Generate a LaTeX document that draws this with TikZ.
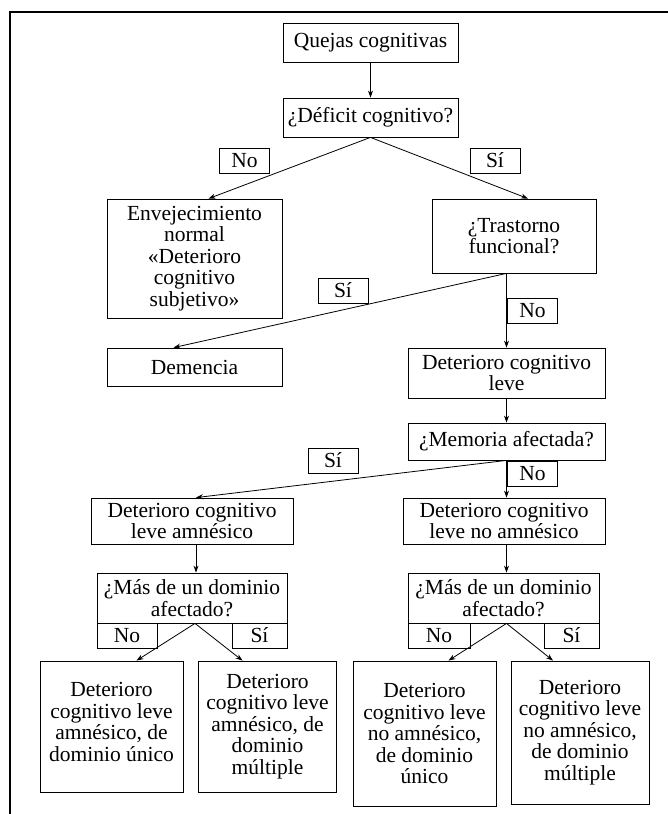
\documentclass[tikz,border=0pt]{standalone}
\usepackage{fontspec}
\setmainfont{Liberation Serif}
\usetikzlibrary{arrows.meta}

\begin{document}
\begin{tikzpicture}[x=1pt, y=-1pt]
        \tikzstyle{box} = [draw, line width=0.8pt, align=center, inner sep=2pt, font={\fontsize{21.5}{21.5}\selectfont}]
        \tikzstyle{tag} = [box, minimum width=50pt, minimum height=25pt]
        \tikzstyle{link} = [-{Stealth[length=7pt, width=5pt]}, line width=0.8pt]
        \useasboundingbox (0,0) rectangle (668,814);
        \draw[line width=1.2pt] (10,814) -- (10,12) -- (668,12);
        % first levels
        \node[box, minimum width=175pt, minimum height=39pt] (quejas) at (370.5,42.5) {Quejas cognitivas};
        \node[box, minimum width=175pt, minimum height=39pt] (deficit) at (370.5,117.5) {¿Déficit cognitivo?};
        \node[box, minimum width=175pt, minimum height=119pt] (envej) at (194.5,258.5) {Envejecimiento\\normal\\«Deterioro\\cognitivo\\subjetivo»};
        \node[box, minimum width=164pt, minimum height=74pt] (trast) at (514,236) {¿Trastorno\\funcional?};
        \node[box, minimum width=175pt, minimum height=38pt] (demencia) at (194.5,367) {Demencia};
        \node[box, minimum width=197pt, minimum height=50pt] (dcl) at (506.5,373) {Deterioro cognitivo\\leve};
        \node[box, minimum width=197pt, minimum height=37pt] (memoria) at (506.5,441.5) {¿Memoria afectada?};
        \node[box, minimum width=202pt, minimum height=46pt] (amn) at (192,521) {Deterioro cognitivo\\leve amnésico};
        \node[box, minimum width=202pt, minimum height=46pt] (noamn) at (504,521) {Deterioro cognitivo\\leve no amnésico};
        \node[box, minimum width=190pt, minimum height=50pt] (masA) at (192,598) {¿Más de un dominio\\afectado?};
        \node[box, minimum width=191pt, minimum height=50pt] (masB) at (503.5,598) {¿Más de un dominio\\afectado?};
        % final boxes
        \node[box, minimum width=143pt, minimum height=131pt] (finA) at (111.5,726.5) {Deterioro\\cognitivo leve\\amnésico, de\\dominio único\\[-12pt]};
        \node[box, minimum width=138pt, minimum height=131pt] (finB) at (267.5,726.5) {Deterioro\\cognitivo leve\\amnésico, de\\dominio\\múltiple};
        \node[box, minimum width=143pt, minimum height=145pt] (finC) at (424.5,733.5) {Deterioro\\cognitivo leve\\no amnésico,\\de dominio\\único};
        \node[box, minimum width=138pt, minimum height=143pt] (finD) at (580,732.5) {Deterioro\\cognitivo leve\\no amnésico,\\de dominio\\múltiple};
        % yes / no tags
        \node[tag] (no1) at (244.5,160.5) {No};
        \node[tag] (si1) at (495,160.5) {Sí};
        \node[tag] (si2) at (343,290.5) {Sí};
        \node[tag] (no2) at (532.5,310.5) {No};
        \node[tag] (si3) at (333,460.5) {Sí};
        \node[tag] (no3) at (532.5,473.5) {No};
        \node[tag, minimum width=60pt] (no4) at (127,635.5) {No};
        \node[tag, minimum width=55pt] (si4) at (259.5,635.5) {Sí};
        \node[tag, minimum width=62pt] (no5) at (439,635.5) {No};
        \node[tag, minimum width=55pt] (si5) at (571.5,635.5) {Sí};
        % connectors
        \draw[link] (quejas) -- (deficit);
        \draw[link] (deficit.south) -- ([xshift=14pt]envej.north);
        \draw[link] (deficit.south) -- ([xshift=14pt]trast.north);
        \draw[link] (trast.south -| dcl.north) -- ([xshift=-21pt]demencia.north);
        \draw[link] (trast.south -| dcl.north) -- (dcl.north);
        \draw[link] (dcl) -- (memoria);
        \draw[link] (memoria.south) -- ([xshift=4pt]amn.north);
        \draw[link] (memoria.south) -- (memoria.south |- noamn.north);
        \draw[link] ([xshift=4pt]amn.south) -- ([xshift=4pt]masA.north);
        \draw[link] (noamn.south -| memoria.south) -- (masB.north -| memoria.south);
        \draw[link] ([xshift=3pt]masA.south) -- ([xshift=25pt]finA.north);
        \draw[link] ([xshift=3pt]masA.south) -- ([xshift=-25pt]finB.north);
        \draw[link] ([xshift=3pt]masB.south) -- ([xshift=24pt]finC.north);
        \draw[link] ([xshift=3pt]masB.south) -- ([xshift=-27pt]finD.north);
    \end{tikzpicture}
\end{document}
